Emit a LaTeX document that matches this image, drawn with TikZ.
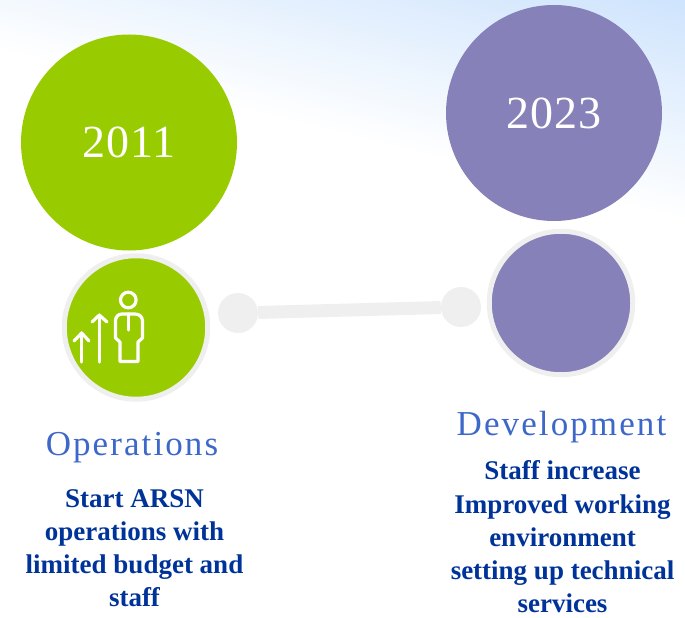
\documentclass[tikz,border=0pt]{standalone}
\usepackage{fontspec}
\setmainfont{Liberation Serif}
\newfontfamily\spaced[LetterSpace=2]{Liberation Serif}
\newfontfamily\spacedb[LetterSpace=6]{Liberation Serif}
\definecolor{lime}{HTML}{99CC00}
\definecolor{violet}{HTML}{8781B9}
\definecolor{pale}{HTML}{EFEFEF}
\definecolor{headc}{HTML}{3D68C9}
\definecolor{bodyc}{HTML}{003399}
\definecolor{skyc}{HTML}{CFE4FD}
\tikzset{
  big/.style={circle,inner sep=0pt,minimum size=216pt,text=white,font=\spaced\fontsize{46}{46}\selectfont},
  small/.style={circle,inner sep=0pt,outer sep=0pt,minimum size=143.5pt,draw=pale,line width=5pt},
  dot/.style={circle,fill=pale,inner sep=0pt,minimum size=40pt},
  head/.style={text=headc,font=\spacedb\fontsize{35}{35}\selectfont,inner sep=0pt},
  body/.style={text=bodyc,font=\bfseries\fontsize{27}{33.2}\selectfont,align=center,inner sep=0pt},
  icon/.style={draw=white,line width=3.2pt,line cap=round,line join=round}
}
\begin{document}
\begin{tikzpicture}[x=1pt,y=-1pt]
\useasboundingbox (0,0) rectangle (685,618);
\begin{scope}
\clip (0,0) rectangle (685,618);
\begin{scope}[shift={(685,218)},rotate=-14]
\foreach \i in {1,...,48}{
  \pgfmathsetmacro{\pct}{\i*100/48}
  \pgfmathsetmacro{\dist}{(\i-1)*211/48}
  \fill[skyc!\pct!white] (-1200,-\dist) rectangle (300,-400);
}
\end{scope}
\end{scope}
\node[big,fill=lime] (y11) at (129,142.5) {\raisebox{-2pt}{2011}\hspace{8pt}};
\node[big,fill=violet] (y23) at (554,113) {\raisebox{-2pt}{2023}\hspace{6pt}};
\node[small,fill=lime] (c11) at (136,327.5) {};
\node[small,fill=violet] (c23) at (561,303) {};
\node[dot] (d1) at (238,313) {};
\node[dot] (d2) at (461,307) {};
\draw[pale,line width=13pt] (d1) -- (d2);
\draw[icon] (128.3,300) circle (7.8);
\draw[icon] (128.3,314) -- (128.3,330);
\draw[icon] (122,314) -- (135,314) .. controls (139.5,314) and (142.5,317) .. (142.5,321) -- (142.5,338) -- (138,342) -- (138,361.5) -- (120,361.5) -- (120,342) -- (115.5,338) -- (115.5,321) .. controls (115.5,317) and (118,314) .. (122,314) -- cycle;
\draw[icon] (99.3,362) -- (99.3,315);
\draw[icon] (92,322) -- (99.3,315) -- (107,322);
\draw[icon] (81.7,362) -- (81.7,333);
\draw[icon] (74,341) -- (81.7,333) -- (89,341);
\node[head] (h1) at (132,448) {Operations};
\node[head] (h2) at (561.5,427) {Development};
\node[body] (t1) at (134.5,548) {Start ARSN\\operations with\\limited budget and\\staff};
\node[body] (t2) at (562.5,537) {Staff increase\\Improved working\\environment\\setting up technical\\services};
\end{tikzpicture}
\end{document}
